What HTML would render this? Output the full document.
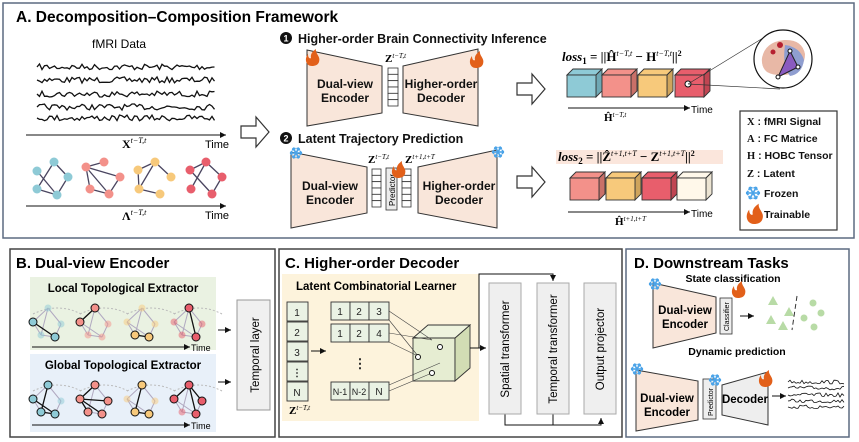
<!DOCTYPE html>
<html><head><meta charset="utf-8"><style>
html,body{margin:0;padding:0;background:#fff;}
svg{display:block;font-family:"Liberation Sans",sans-serif;}
.t{font-weight:bold;}
.m{font-family:"Liberation Serif",serif;font-weight:bold;}
</style></head><body>
<svg id="s" width="859" height="442" viewBox="0 0 859 442" xmlns="http://www.w3.org/2000/svg">
<defs>
<marker id="ar" markerWidth="8" markerHeight="8" refX="6" refY="3" orient="auto"><path d="M0,0 L6,3 L0,6 z" fill="#111"/></marker>
</defs>
<!-- Panel A -->
<rect x="3" y="3" width="851" height="235" fill="#fff" stroke="#5c6a80" stroke-width="1.5"/>
<text x="16" y="22" font-size="15.5" class="t">A. Decomposition–Composition Framework</text>
<text x="119" y="48" font-size="12" text-anchor="middle">fMRI Data</text>
<g id="waves1" fill="none" stroke="#111" stroke-width="1.3"></g>
<line x1="26" y1="135" x2="226" y2="135" stroke="#111" stroke-width="1" marker-end="url(#ar)"/>
<text x="205" y="148" font-size="11">Time</text>
<text x="122" y="148" font-size="12" class="m">X<tspan font-size="8" dy="-5" font-style="italic" font-weight="normal">t−T,t</tspan></text>
<g stroke="#4a4560" stroke-width="1.3">
<line x1="54" y1="162" x2="68" y2="177"/><line x1="68" y1="177" x2="57" y2="195"/><line x1="57" y1="195" x2="37" y2="189"/><line x1="37" y1="171" x2="57" y2="195"/><line x1="54" y1="162" x2="37" y2="189"/>
<line x1="86" y1="167" x2="104" y2="162"/><line x1="86" y1="167" x2="120" y2="177"/><line x1="86" y1="167" x2="109" y2="194"/><line x1="86" y1="167" x2="90" y2="189"/><line x1="90" y1="189" x2="109" y2="194"/><line x1="120" y1="177" x2="109" y2="194"/>
<line x1="138" y1="170" x2="155" y2="162"/><line x1="155" y1="162" x2="139" y2="189"/><line x1="139" y1="189" x2="160" y2="194"/><line x1="155" y1="162" x2="171" y2="177"/><line x1="138" y1="170" x2="139" y2="189"/>
<line x1="190" y1="170" x2="206" y2="162"/><line x1="206" y1="162" x2="222" y2="177"/><line x1="222" y1="177" x2="212" y2="194"/><line x1="206" y1="162" x2="191" y2="189"/><line x1="190" y1="170" x2="212" y2="194"/>
</g>
<g fill="#8ecad6"><circle cx="37" cy="171" r="4.5"/><circle cx="54" cy="162" r="4.5"/><circle cx="68" cy="177" r="4.5"/><circle cx="37" cy="189" r="4.5"/><circle cx="57" cy="195" r="4.5"/></g>
<g fill="#f3918a"><circle cx="86" cy="167" r="4.5"/><circle cx="104" cy="162" r="4.5"/><circle cx="120" cy="177" r="4.5"/><circle cx="90" cy="189" r="4.5"/><circle cx="109" cy="194" r="4.5"/></g>
<g fill="#f7c97b"><circle cx="138" cy="170" r="4.5"/><circle cx="155" cy="162" r="4.5"/><circle cx="171" cy="177" r="4.5"/><circle cx="139" cy="189" r="4.5"/><circle cx="160" cy="194" r="4.5"/></g>
<g fill="#e85e6c"><circle cx="190" cy="170" r="4.5"/><circle cx="206" cy="162" r="4.5"/><circle cx="222" cy="177" r="4.5"/><circle cx="191" cy="189" r="4.5"/><circle cx="212" cy="194" r="4.5"/></g>
<line x1="26" y1="206" x2="226" y2="206" stroke="#111" stroke-width="1" marker-end="url(#ar)"/>
<text x="205" y="219" font-size="11">Time</text>
<text x="122" y="220" font-size="12" class="m">Λ<tspan font-size="8" dy="-5" font-style="italic" font-weight="normal">t−T,t</tspan></text>
<!-- hollow arrows -->
<g fill="#fff" stroke="#333" stroke-width="1.2">
<path d="M241,126 h15 v-9 l13,15 l-13,15 v-9 h-15 z"/>
<path d="M517,83 h15 v-9 l13,15 l-13,15 v-9 h-15 z"/>
<path d="M517,176 h15 v-9 l13,15 l-13,15 v-9 h-15 z"/>
</g>
<!-- section 1 -->
<circle cx="286" cy="38" r="6" fill="#111"/><text x="286" y="41.5" font-size="9" fill="#fff" text-anchor="middle" class="t">1</text>
<text x="298" y="43" font-size="12.5" fill="#111" class="t">Higher-order Brain Connectivity Inference</text>
<g fill="#f9e6da" stroke="#333" stroke-width="1">
<path d="M307,50 L382,66 L382,113 L307,126 z"/>
<path d="M403,66 L478,49 L478,126 L403,113 z"/>
<path d="M291,152 L367,167 L367,213 L291,228 z"/>
<path d="M418,167 L497,150 L497,228 L418,213 z"/>
</g>
<g font-size="12" text-anchor="middle" fill="#111" class="t">
<text x="345" y="88">Dual-view</text><text x="345" y="102">Encoder</text>
<text x="441" y="88">Higher-order</text><text x="441" y="102">Decoder</text>
<text x="330" y="190">Dual-view</text><text x="330" y="204">Encoder</text>
<text x="459" y="190">Higher-order</text><text x="459" y="204">Decoder</text>
</g>
<g id="cols" fill="#fff" stroke="#333" stroke-width="0.8"></g>
<rect x="386" y="168" width="11" height="42" fill="#ececec" stroke="#333" stroke-width="0.8"/>
<text transform="translate(395,206) rotate(-90)" font-size="8">Predictor</text>
<text x="385" y="62" font-size="11" class="m">Z<tspan font-size="7" dy="-4" font-style="italic" font-weight="normal">t−T,t</tspan></text>
<text x="368" y="163" font-size="11" class="m">Z<tspan font-size="7" dy="-4" font-style="italic" font-weight="normal">t−T,t</tspan></text>
<text x="405" y="163" font-size="11" class="m">Z<tspan font-size="7" dy="-4" font-style="italic" font-weight="normal">t+1,t+T</tspan></text>
<circle cx="286" cy="138" r="6" fill="#111"/><text x="286" y="141.5" font-size="9" fill="#fff" text-anchor="middle" class="t">2</text>
<text x="298" y="143" font-size="12.5" fill="#111" class="t">Latent Trajectory Prediction</text>
<!-- loss1 -->
<text x="562" y="61" font-size="13" class="m"><tspan font-style="italic">loss</tspan><tspan font-size="9" dy="3">1</tspan><tspan dy="-3"> = ||Ĥ</tspan><tspan font-size="8" dy="-5" font-style="italic" font-weight="normal">t−T,t</tspan><tspan dy="5"> − H</tspan><tspan font-size="8" dy="-5" font-style="italic" font-weight="normal">t−T,t</tspan><tspan dy="5">||</tspan><tspan font-size="8" dy="-5">2</tspan></text>
<rect x="556" y="150" width="167" height="14" fill="#fbe6dc"/>
<text x="558" y="161" font-size="13" class="m"><tspan font-style="italic">loss</tspan><tspan font-size="9" dy="3">2</tspan><tspan dy="-3"> = ||Ẑ</tspan><tspan font-size="8" dy="-5" font-style="italic" font-weight="normal">t+1,t+T</tspan><tspan dy="5"> − Z</tspan><tspan font-size="8" dy="-5" font-style="italic" font-weight="normal">t+1,t+T</tspan><tspan dy="5">||</tspan><tspan font-size="8" dy="-5">2</tspan></text>
<g id="cubes" stroke="#333" stroke-width="0.9"></g>
<circle cx="688" cy="84" r="3" fill="#fff" stroke="#111"/>
<line x1="688" y1="84" x2="763" y2="38" stroke="#333" stroke-width="0.7"/>
<line x1="688" y1="84" x2="780" y2="89" stroke="#333" stroke-width="0.7"/>
<circle cx="783" cy="59" r="29" fill="#fff" stroke="#111" stroke-width="1.2"/>
<path d="M762,58 q3,-16 22,-18 q18,-1 21,14 q0,14 -14,20 q-15,3 -24,-2 q-6,-5 -5,-14z" fill="#e8b8a6"/>
<path d="M785,45 q15,2 19,15 q-2,14 -14,16 q-8,-10 -5,-31z" fill="#8f9ed0"/>
<circle cx="780" cy="45" r="3" fill="#b52030"/><circle cx="773" cy="52" r="2.5" fill="#b52030"/>
<path d="M790,51 L798,67 L778,77 z" fill="#8a5bc0" stroke="#222" stroke-width="1"/>
<g fill="#fff" stroke="#111"><circle cx="790" cy="51" r="2"/><circle cx="798" cy="67" r="2"/><circle cx="778" cy="77" r="2"/></g>
<line x1="568" y1="108" x2="690" y2="108" stroke="#111" marker-end="url(#ar)"/>
<text x="691" y="113" font-size="10">Time</text>
<text x="604" y="121" font-size="11" class="m">Ĥ<tspan font-size="7" dy="-4" font-style="italic" font-weight="normal">t−T,t</tspan></text>
<line x1="568" y1="212" x2="690" y2="212" stroke="#111" marker-end="url(#ar)"/>
<text x="691" y="217" font-size="10">Time</text>
<text x="615" y="225" font-size="11" class="m">Ĥ<tspan font-size="7" dy="-4" font-style="italic" font-weight="normal">t+1,t+T</tspan></text>
<!-- legend -->
<rect x="740" y="111" width="97" height="119" fill="#fff" stroke="#333" stroke-width="1.2"/>
<g font-size="10.5" fill="#111" class="t">
<text x="747" y="125"><tspan class="m">X</tspan> : fMRI Signal</text>
<text x="747" y="142"><tspan class="m">A</tspan> : FC Matrice</text>
<text x="747" y="159"><tspan class="m">H</tspan> : HOBC Tensor</text>
<text x="747" y="177"><tspan class="m">Z</tspan> : Latent</text>
<text x="764" y="197">Frozen</text>
<text x="764" y="218">Trainable</text>
</g>
<!-- Panel B -->
<rect x="10" y="249" width="265" height="188" fill="#fff" stroke="#444" stroke-width="1.5"/>
<text x="16" y="268" font-size="15" class="t">B. Dual-view Encoder</text>
<rect x="30" y="277" width="186" height="73" fill="#eaf2e2"/>
<rect x="30" y="354" width="186" height="78" fill="#e8f0f9"/>
<text x="123" y="292" font-size="11.5" text-anchor="middle" class="t">Local Topological Extractor</text>
<text x="123" y="369" font-size="11.5" text-anchor="middle" class="t">Global Topological Extractor</text>
<g id="bgraphs"></g>
<line x1="32" y1="347" x2="190" y2="347" stroke="#111" marker-end="url(#ar)"/><text x="191" y="351" font-size="9">Time</text>
<line x1="32" y1="425" x2="190" y2="425" stroke="#111" marker-end="url(#ar)"/><text x="191" y="429" font-size="9">Time</text>
<line x1="218" y1="330" x2="231" y2="330" stroke="#111" marker-end="url(#ar)"/>
<line x1="218" y1="382" x2="231" y2="382" stroke="#111" marker-end="url(#ar)"/>
<rect x="237" y="300" width="33" height="110" fill="#f0f0f0" stroke="#999"/>
<text transform="translate(259,355) rotate(-90)" font-size="11.5" text-anchor="middle">Temporal layer</text>
<!-- Panel C -->
<rect x="279" y="249" width="343" height="188" fill="#fff" stroke="#444" stroke-width="1.5"/>
<text x="285" y="268" font-size="15" class="t">C. Higher-order Decoder</text>
<rect x="282" y="274" width="197" height="147" fill="#fdf3dc"/>
<text x="296" y="290" font-size="11.5" class="t">Latent Combinatorial Learner</text>
<g fill="#eaf2e4" stroke="#333" stroke-width="0.9">
<rect x="287" y="302" width="21" height="19"/><rect x="287" y="322" width="21" height="19"/><rect x="287" y="342" width="21" height="19"/><rect x="287" y="362" width="21" height="19"/><rect x="287" y="382" width="21" height="19"/>
<rect x="331" y="302" width="19" height="18"/><rect x="350" y="302" width="19" height="18"/><rect x="369" y="302" width="20" height="18"/>
<rect x="331" y="324" width="19" height="18"/><rect x="350" y="324" width="19" height="18"/><rect x="369" y="324" width="20" height="18"/>
<rect x="331" y="382" width="19" height="18"/><rect x="350" y="382" width="19" height="18"/><rect x="369" y="382" width="20" height="18"/>
</g>
<g font-size="10" text-anchor="middle" fill="#222">
<text x="297" y="316">1</text><text x="297" y="336">2</text><text x="297" y="356">3</text><text x="297" y="376" class="t">⋮</text><text x="297" y="396">N</text>
<text x="340" y="315">1</text><text x="359" y="315">2</text><text x="379" y="315">3</text>
<text x="340" y="337">1</text><text x="359" y="337">2</text><text x="379" y="337">4</text>
<text x="340" y="395" font-size="9">N-1</text><text x="359" y="395" font-size="9">N-2</text><text x="379" y="395">N</text>
<text x="360" y="368" class="t" font-size="13">⋮</text>
</g>
<text x="289" y="414" font-size="11" class="m">Z<tspan font-size="7" dy="-4" font-style="italic" font-weight="normal">t−T,t</tspan></text>
<line x1="311" y1="351" x2="326" y2="351" stroke="#111" marker-end="url(#ar)"/>
<g stroke="#333" stroke-width="0.9">
<rect x="413" y="338" width="42" height="43" fill="#e6edd2"/>
<path d="M455,338 L470,325 L470,368 L455,381z" fill="#d2ddb4"/>
<path d="M413,338 L428,325 L470,325 L455,338z" fill="#eef3de"/>
</g>
<g stroke="#444" stroke-width="0.6" fill="none">
<line x1="389" y1="311" x2="432" y2="340"/><line x1="389" y1="333" x2="432" y2="340"/>
<line x1="389" y1="320" x2="418" y2="356"/><line x1="389" y1="342" x2="418" y2="356"/>
<line x1="389" y1="391" x2="432" y2="373"/><line x1="389" y1="385" x2="440" y2="363"/>
</g>
<g fill="#fff" stroke="#111"><circle cx="418" cy="357" r="2.5"/><circle cx="440" cy="347" r="2.5"/><circle cx="432" cy="373" r="2.5"/></g>
<g stroke="#111" fill="none" stroke-width="1">
<path d="M470,348 H479 V274 H553 V281" marker-end="url(#ar)"/>
<line x1="479" y1="348" x2="486" y2="348" marker-end="url(#ar)"/>
<path d="M505,414 V425 H601 V418" marker-end="url(#ar)"/>
<line x1="553" y1="414" x2="553" y2="425"/>
</g>
<g fill="#efefef" stroke="#aaa">
<rect x="489" y="283" width="32" height="131"/><rect x="537" y="283" width="32" height="131"/><rect x="584" y="283" width="32" height="131"/>
</g>
<g font-size="11.5" text-anchor="middle">
<text transform="translate(509,349) rotate(-90)">Spatial transformer</text>
<text transform="translate(557,349) rotate(-90)">Temporal transformer</text>
<text transform="translate(604,349) rotate(-90)">Output projector</text>
</g>
<!-- Panel D -->
<rect x="626" y="249" width="223" height="188" fill="#fff" stroke="#5c6a80" stroke-width="1.5"/>
<text x="634" y="268" font-size="15" class="t">D. Downstream Tasks</text>
<text x="733" y="282" font-size="10.5" text-anchor="middle" class="t">State classification</text>
<text x="737" y="355" font-size="10.5" text-anchor="middle" class="t">Dynamic prediction</text>
<path d="M653,283 L716,297 L716,333 L653,348z" fill="#f9e6da" stroke="#333"/>
<text x="685" y="314" font-size="11.5" text-anchor="middle" class="t">Dual-view</text><text x="685" y="328" font-size="11.5" text-anchor="middle" class="t">Encoder</text>
<rect x="720" y="298" width="12" height="36" fill="#eee" stroke="#333" stroke-width="0.8"/>
<text transform="translate(729,331) rotate(-90)" font-size="7">Classifier</text>
<line x1="740" y1="316" x2="754" y2="316" stroke="#111" marker-end="url(#ar)"/>
<g fill="#b8dba6"><path d="M768,305 l5,-9 l5,9z"/><path d="M784,316 l5,-9 l5,9z"/><path d="M766,324 l5,-9 l5,9z"/><path d="M778,330 l5,-9 l5,9z"/>
<circle cx="813" cy="303" r="3.5"/><circle cx="821" cy="313" r="3.5"/><circle cx="804" cy="318" r="3.5"/><circle cx="814" cy="327" r="3.5"/></g>
<line x1="797" y1="296" x2="792" y2="330" stroke="#333" stroke-dasharray="5,3"/>
<path d="M636,370 L698,381 L698,420 L636,431z" fill="#f9e6da" stroke="#333"/>
<text x="667" y="402" font-size="11.5" text-anchor="middle" class="t">Dual-view</text><text x="667" y="416" font-size="11.5" text-anchor="middle" class="t">Encoder</text>
<rect x="703" y="379" width="13" height="40" fill="#eee" stroke="#333" stroke-width="0.8"/>
<text transform="translate(713,416) rotate(-90)" font-size="7">Predictor</text>
<path d="M722,385 L768,372 L768,425 L722,415z" fill="#eee" stroke="#333"/>
<text x="745" y="403" font-size="11.5" text-anchor="middle" class="t">Decoder</text>
<line x1="772" y1="396" x2="786" y2="396" stroke="#111" marker-end="url(#ar)"/>
<g id="waves2" fill="none" stroke="#111" stroke-width="0.8"></g>
<!-- flames & snowflakes on top -->
<g id="fl" fill="#e2601a"></g>
<g id="sf" stroke="#4aa3e8" stroke-width="1.6" fill="none"></g>
</svg>
<script>
var N="http://www.w3.org/2000/svg";
function el(p,t,a){var e=document.createElementNS(N,t);for(var k in a)e.setAttribute(k,a[k]);p.appendChild(e);return e;}
var seed=7;function r(){seed=(seed*16807)%2147483647;return seed/2147483647;}
function waves(g,x0,x1,ys,amp,step){ys.forEach(function(y){var d="M"+x0+","+y;for(var x=x0+step;x<=x1;x+=step){d+=" L"+x+","+(y+(r()-0.5)*amp).toFixed(1);}el(g,"path",{d:d});});}
waves(document.getElementById("waves1"),37,215,[67,80,94,107,118],6,2.5);
waves(document.getElementById("waves2"),788,845,[382,388,395,401,407],4,2);
var cols=document.getElementById("cols");
[[388,68,10,38],[372,169,9,38],[402,169,9,38]].forEach(function(c){for(var i=0;i<6;i++)el(cols,"rect",{x:c[0],y:c[1]+i*c[3]/6,width:c[2],height:c[3]/6});});
function cube(g,x,y,w,h,c,dk){var d=6;el(g,"path",{d:"M"+x+","+y+" l"+d+","+(-d)+" h"+w+" l"+(-d)+","+d+"z",fill:c});el(g,"path",{d:"M"+(x+w)+","+y+" l"+d+","+(-d)+" v"+h+" l"+(-d)+","+d+"z",fill:dk});el(g,"rect",{x:x,y:y,width:w,height:h,fill:c});}
var cb=document.getElementById("cubes");
[[567,"#8ecad6","#6fa8b4"],[602,"#f3918a","#c97068"],[638,"#f7c97b","#cfa45c"],[675,"#e85e6c","#c04552"]].forEach(function(a){cube(cb,a[0],75,29,22,a[1],a[2]);});
[[570,"#f3918a","#c97068"],[606,"#f7c97b","#cfa45c"],[642,"#e85e6c","#c04552"],[677,"#fff8ea","#ece4d2"]].forEach(function(a){cube(cb,a[0],178,29,22,a[1],a[2]);});
var fl=document.getElementById("fl");
function flame(x,y,s){el(fl,"path",{d:"M"+x+","+y+" c"+(-6*s)+",0 "+(-8*s)+","+(-7*s)+" "+(-4*s)+","+(-12*s)+" c0,"+(4*s)+" "+(2*s)+","+(5*s)+" "+(3*s)+","+(4*s)+" c"+(-1*s)+","+(-4*s)+" "+(2*s)+","+(-7*s)+" "+(5*s)+","+(-9*s)+" c"+(-1*s)+","+(5*s)+" "+(5*s)+","+(7*s)+" "+(3*s)+","+(13*s)+" c"+(-1*s)+","+(3*s)+" "+(-4*s)+","+(4*s)+" "+(-7*s)+","+(4*s)+"z"});}
flame(312,66,1);flame(476,68,1);flame(398,178,1);flame(754,224,1.2);flame(738,298,1);flame(765,387,1);
var sf=document.getElementById("sf");
function snow(x,y,s){for(var i=0;i<3;i++){var a=i*Math.PI/3;var c=Math.cos(a),n=Math.sin(a);el(sf,"line",{x1:x-c*s,y1:y-n*s,x2:x+c*s,y2:y+n*s});
[1,-1].forEach(function(k){var ex=x+k*c*s*0.65,ey=y+k*n*s*0.65;var px=-n*s*0.3,py=c*s*0.3;el(sf,"line",{x1:ex+px,y1:ey+py,x2:ex+k*c*s*0.3,y2:ey+k*n*s*0.3});el(sf,"line",{x1:ex-px,y1:ey-py,x2:ex+k*c*s*0.3,y2:ey+k*n*s*0.3});});}}
snow(296,153,6);snow(498,152,6);snow(753,193,7);snow(655,284,6);snow(637,369,6);snow(715,380,6);
var bg=document.getElementById("bgraphs");
function g2(ox,oy,col,hl){var p=[[0,20],[15,6],[28,22],[8,33],[22,35]];var E=[[0,1],[1,2],[2,4],[4,0],[0,3],[3,4],[1,3]];
E.forEach(function(e){el(bg,"line",{x1:ox+p[e[0]][0],y1:oy+p[e[0]][1],x2:ox+p[e[1]][0],y2:oy+p[e[1]][1],stroke:"#b0a8c0","stroke-width":1});});
el(bg,"path",{d:"M"+(ox)+","+(oy+12)+" q25,-12 48,0",fill:"none",stroke:"#bbb","stroke-dasharray":"2,2"});
hl.forEach(function(e){el(bg,"line",{x1:ox+p[e[0]][0],y1:oy+p[e[0]][1],x2:ox+p[e[1]][0],y2:oy+p[e[1]][1],stroke:"#111","stroke-width":1.3});});
p.forEach(function(q,i){var on=hl.some(function(e){return e[0]==i||e[1]==i;});el(bg,"circle",{cx:ox+q[0],cy:oy+q[1],r:on?4:3.5,fill:col,"fill-opacity":on?1:0.5,stroke:on?"#111":"none"});});}
var cs=["#8ecad6","#f3918a","#f7c97b","#e85e6c"];
for(var i=0;i<4;i++){g2(33+i*47,302,cs[i],[[[4,0]],[[1,0]],[[3,4]],[[1,4]]][i]);g2(33+i*47,379,cs[i],[[[4,0],[1,3],[3,4]],[[1,0],[0,4],[0,2],[0,3]],[[1,3],[3,4]],[[1,0],[1,2],[1,4]]][i]);}
</script>
</body></html>
